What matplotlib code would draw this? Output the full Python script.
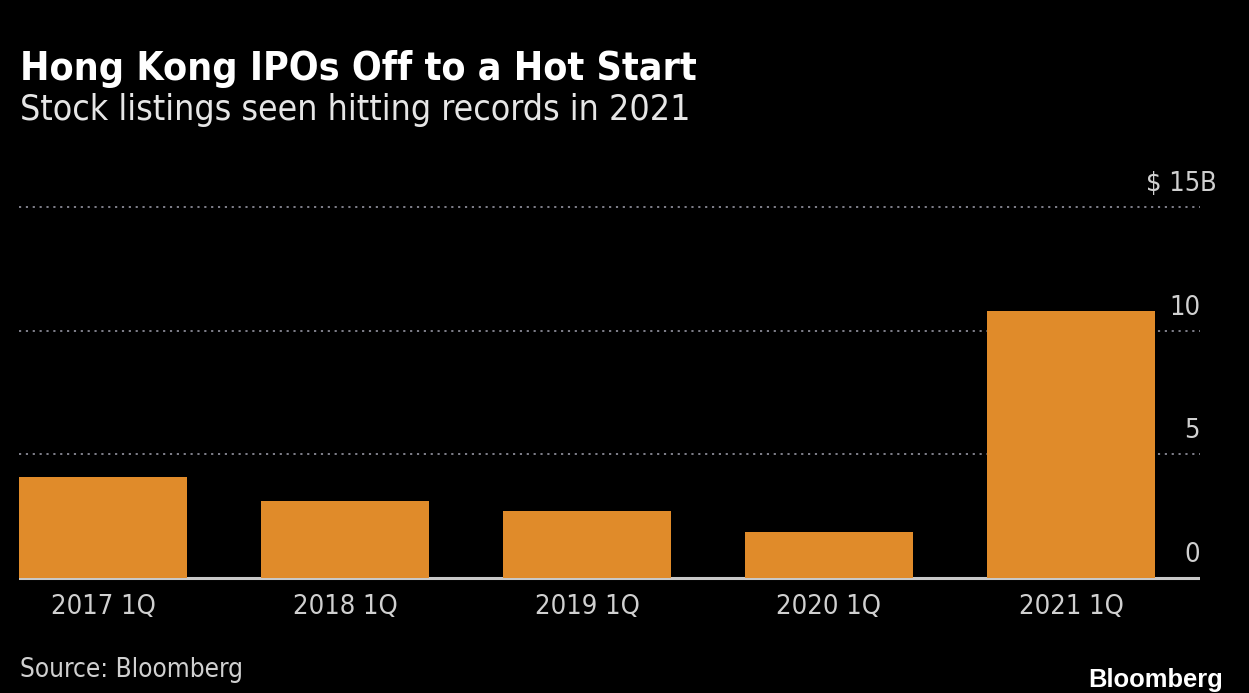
import matplotlib
matplotlib.use("Agg")
import matplotlib.pyplot as plt
from matplotlib import font_manager
from matplotlib.transforms import blended_transform_factory, ScaledTranslation

# ---- data ----
categories = ["2017 1Q", "2018 1Q", "2019 1Q", "2020 1Q", "2021 1Q"]
ipo_values = [4.07, 3.1, 2.72, 1.84, 10.8]   # $ billions
y_ticks = [0, 5, 10, 15]
y_tick_labels = ["0", "5", "10", "$ 15"]

title = "Hong Kong IPOs Off to a Hot Start"
subtitle = "Stock listings seen hitting records in 2021"
source = "Source: Bloomberg"
brand = "Bloomberg"

BG = "#000000"
BAR = "#E08B2A"
TXT = "#d0d0d0"
GRID = "#8a8a96"

W, H, DPI = 1249, 693, 100

# condensed DejaVu if available
has_cond = any(f.name == "DejaVu Sans" and f.stretch == "condensed"
               for f in font_manager.fontManager.ttflist)
STRETCH = "condensed" if has_cond else "normal"

fig = plt.figure(figsize=(W / DPI, H / DPI), dpi=DPI, facecolor=BG)

ylo, yhi = -0.3, 15.3
px0, px15 = 578.0, 207.0
ppu = (px0 - px15) / 15.0
bottom_px = px0 - ylo * ppu
top_px = px15 - (yhi - 15) * ppu
left_px, right_px = 19.0, 1200.0
ax = fig.add_axes([left_px / W, 1 - bottom_px / H,
                   (right_px - left_px) / W, (bottom_px - top_px) / H])
ax.set_facecolor(BG)

width = 0.694
x = list(range(len(categories)))
ax.bar(x, ipo_values, width=width, color=BAR, zorder=3)
ax.set_xlim(-width / 2, (right_px - 103.0) / 242.0)
ax.set_ylim(ylo, yhi)

for t in y_ticks[1:]:
    ax.axhline(t, color=GRID, lw=1.3, ls=(0, (1.2, 2.6)), zorder=1)
ax.axhline(0, color="#c8c8c8", lw=2.2, zorder=2)

for s in ax.spines.values():
    s.set_visible(False)
ax.set_yticks([])
ax.set_xticks(x)
ax.set_xticklabels(categories)
ax.tick_params(axis="x", length=0, pad=6, colors=TXT)
for lab in ax.get_xticklabels():
    lab.set_fontfamily("DejaVu Sans")
    lab.set_fontstretch(STRETCH)
    lab.set_color(TXT)

renderer = fig.canvas.get_renderer()

def fit(txt, target_px):
    fs = txt.get_fontsize()
    for _ in range(3):
        w = txt.get_window_extent(renderer).width
        fs = fs * target_px / w
        txt.set_fontsize(fs)
    return fs

t_title = fig.text(20 / W, 1 - 80 / H, title, color="white", fontsize=24,
                   fontweight="bold", family="DejaVu Sans", fontstretch=STRETCH,
                   va="baseline", ha="left")
fit(t_title, 677)
t_sub = fig.text(20 / W, 1 - 120 / H, subtitle, color="#e6e6e6", fontsize=20,
                 family="DejaVu Sans", fontstretch=STRETCH,
                 va="baseline", ha="left")
fit(t_sub, 670)

# tick label size
probe = fig.text(0, 0, categories[0], fontsize=14, family="DejaVu Sans",
                 fontstretch=STRETCH)
tick_fs = fit(probe, 105)
probe.remove()
for lab in ax.get_xticklabels():
    lab.set_fontsize(tick_fs)

t_src = fig.text(20 / W, 1 - 677 / H, source, color=TXT, fontsize=tick_fs,
                 family="DejaVu Sans", fontstretch=STRETCH,
                 va="baseline", ha="left")
fit(t_src, 223)

t_brand = fig.text(1223 / W, 1 - 687 / H, brand, color="white", fontsize=18,
                   fontweight="bold", family="Liberation Sans",
                   va="baseline", ha="right")
fit(t_brand, 135)

trans = blended_transform_factory(ax.transAxes, ax.transData)
off = ScaledTranslation(0.0, 16 / DPI, fig.dpi_scale_trans)
for t, lab in zip(y_ticks, y_tick_labels):
    ax.text(1.0, t, lab, transform=trans + off, ha="right", va="baseline",
            color=TXT, fontsize=tick_fs, family="DejaVu Sans",
            fontstretch=STRETCH, clip_on=False)
    if t == 15:
        ax.text(1.0, t, "B", transform=trans + off, ha="left", va="baseline",
                color=TXT, fontsize=tick_fs, family="DejaVu Sans",
                fontstretch=STRETCH, clip_on=False)

fig.savefig("out.png", dpi=DPI, facecolor=BG)
